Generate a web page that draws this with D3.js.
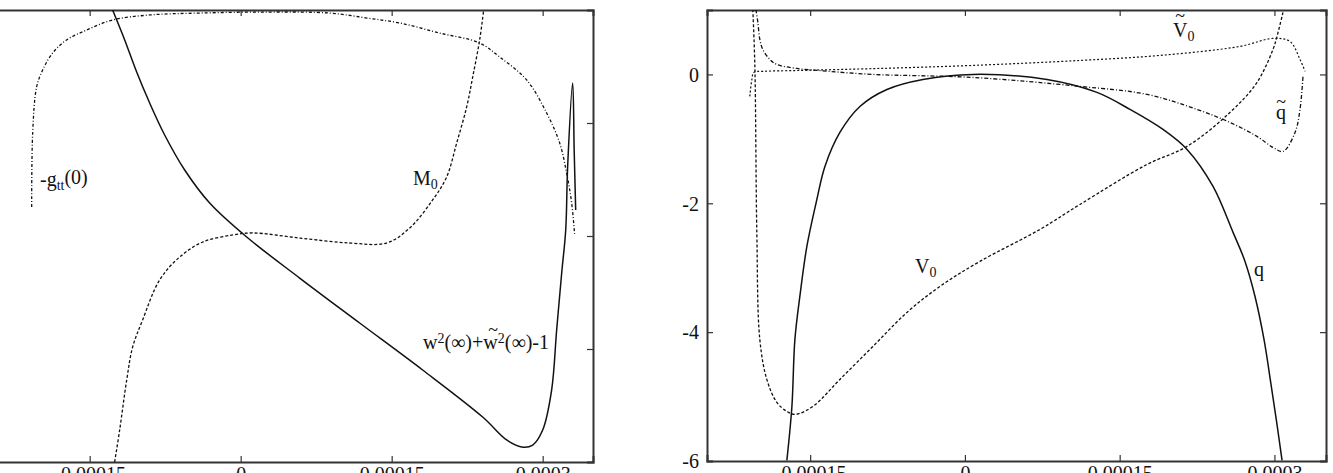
<!DOCTYPE html>
<html>
<head>
<meta charset="utf-8">
<script src="https://cdn.jsdelivr.net/npm/d3@7"></script>
<style>
body { margin: 0; background: #fff; }
svg { display: block; }
svg text { font-family: "Liberation Serif", "DejaVu Serif", serif !important; fill: #111; }
</style>
</head>
<body>
<div id="chart-area"></div>
<script>

// x ticks shared by both panels
var xDomain = [-0.00025, 0.00035];
var xTickVals = [-0.00015, 0, 0.00015, 0.0003];
var xTickLabels = ["-0.00015", "0", "0.00015", "0.0003"];

// left panel (its y labels are outside the picture)
var yDomainL = [0, 4];
var yTickValsL = [0, 1, 2, 3, 4];

// right panel
var yDomainR = [-6, 1];
var yTickValsR = [-6, -4, -2, 0];
var yTickLabelsR = ["-6", "-4", "-2", "0"];

// left panel curves
var gttX = [-2.076e-4, -2.066e-4, -2.027e-4, -1.967e-4, -1.868e-4, -1.729e-4, -1.530e-4, -1.272e-4, -0.904e-4, -0.407e-4, 0.258e-4, 0.884e-4, 1.252e-4, 1.580e-4, 1.977e-4, 2.374e-4, 2.573e-4, 2.841e-4, 3.040e-4, 3.169e-4, 3.238e-4, 3.288e-4, 3.318e-4];
var gttY = [2.257, 2.912, 3.319, 3.469, 3.619, 3.735, 3.823, 3.912, 3.956, 3.973, 3.982, 3.973, 3.929, 3.885, 3.796, 3.708, 3.584, 3.381, 3.088, 2.823, 2.558, 2.292, 2.009];

var m0X = [-1.252e-4, -1.202e-4, -1.132e-4, -1.073e-4, -0.974e-4, -0.805e-4, -0.606e-4, -0.377e-4, -0.079e-4, 0.119e-4, 0.586e-4, 1.083e-4, 1.450e-4, 1.679e-4, 1.907e-4, 2.046e-4, 2.146e-4, 2.245e-4, 2.305e-4, 2.374e-4, 2.414e-4];
var m0Y = [0, 0.283, 0.726, 1.018, 1.257, 1.611, 1.814, 1.947, 2.009, 2.027, 1.982, 1.938, 1.938, 2.071, 2.319, 2.522, 2.823, 3.142, 3.407, 3.735, 4.0];

var wX = [-1.272e-4, -1.152e-4, -1.033e-4, -0.904e-4, -0.755e-4, -0.556e-4, -0.308e-4, 0.060e-4, 0.586e-4, 1.182e-4, 1.808e-4, 2.404e-4, 2.642e-4, 2.791e-4, 2.901e-4, 3.000e-4, 3.089e-4, 3.139e-4, 3.189e-4, 3.229e-4, 3.248e-4, 3.298e-4, 3.313e-4, 3.328e-4];
var wY = [4.0, 3.735, 3.451, 3.177, 2.894, 2.584, 2.292, 1.991, 1.628, 1.230, 0.814, 0.398, 0.195, 0.133, 0.150, 0.283, 0.637, 1.168, 1.673, 2.053, 2.611, 3.354, 2.761, 2.230];

// right panel curves
var qX = [-1.726e-4, -1.677e-4, -1.648e-4, -1.600e-4, -1.532e-4, -1.435e-4, -1.357e-4, -1.212e-4, -1.018e-4, -0.756e-4, -0.407e-4, 0.078e-4, 0.795e-4, 1.280e-4, 1.600e-4, 1.920e-4, 2.153e-4, 2.405e-4, 2.599e-4, 2.715e-4, 2.812e-4, 2.899e-4, 2.967e-4, 3.025e-4, 3.074e-4];
var qY = [-5.991, -5.153, -4.113, -3.446, -2.670, -1.940, -1.428, -0.900, -0.497, -0.233, -0.078, 0, -0.078, -0.279, -0.543, -0.854, -1.164, -1.738, -2.452, -2.902, -3.446, -4.113, -4.811, -5.432, -5.991];

var v0X = [-2.056e-4, -2.036e-4, -2.017e-4, -1.988e-4, -1.920e-4, -1.823e-4, -1.726e-4, -1.648e-4, -1.474e-4, -1.212e-4, -0.892e-4, -0.562e-4, -0.242e-4, 0.145e-4, 0.727e-4, 1.115e-4, 1.765e-4, 2.153e-4, 2.569e-4, 2.831e-4, 2.986e-4, 3.025e-4, 3.083e-4];
var v0Y = [1.009, 0.124, -2.452, -4.113, -4.734, -5.091, -5.230, -5.277, -5.153, -4.734, -4.222, -3.694, -3.290, -2.902, -2.406, -2.018, -1.397, -1.117, -0.590, -0.124, 0.388, 0.590, 0.962];

var vtX = [-2.085e-4, -2.065e-4, -2.046e-4, -1.959e-4, -1.600e-4, -0.824e-4, 0.078e-4, 1.115e-4, 1.891e-4, 2.666e-4, 2.986e-4, 3.151e-4, 3.248e-4, 3.297e-4];
var vtY = [-0.341, -0.078, 0.031, 0.047, 0.062, 0.093, 0.140, 0.217, 0.295, 0.435, 0.559, 0.512, 0.233, 0.047];

var qtX = [-2.026e-4, -2.007e-4, -1.988e-4, -1.959e-4, -1.891e-4, -1.823e-4, -1.629e-4, -1.309e-4, -0.892e-4, 0.078e-4, 1.115e-4, 1.765e-4, 2.249e-4, 2.569e-4, 2.831e-4, 2.986e-4, 3.083e-4, 3.200e-4, 3.248e-4, 3.277e-4];
var qtY = [1.009, 0.807, 0.543, 0.388, 0.233, 0.155, 0.093, 0.047, 0, -0.047, -0.186, -0.310, -0.543, -0.745, -0.962, -1.133, -1.195, -0.900, -0.543, -0.031];

var width = 1333, height = 473;

var svg = d3.select("#chart-area").append("svg")
	.attr("width", width)
	.attr("height", height);

function makePanel(id, left, right, top, bottom, yDomain, yTicks, yLabels) {
	var x = d3.scaleLinear().domain(xDomain).range([left, right]);
	var y = d3.scaleLinear().domain(yDomain).range([bottom, top]);

	svg.append("clipPath").attr("id", id)
		.append("rect")
		.attr("x", left).attr("y", top)
		.attr("width", right - left).attr("height", bottom - top);

	// inward ticks on all four sides, gnuplot style
	var bottomAxis = svg.append("g")
		.attr("transform", "translate(0," + bottom + ")")
		.call(d3.axisBottom(x).tickValues(xTickVals).tickSize(-6)
			.tickFormat(function(d, i) { return xTickLabels[i]; }));
	bottomAxis.selectAll("text")
		.attr("y", 19).attr("dy", null)
		.style("font-size", "20px");

	svg.append("g")
		.attr("transform", "translate(0," + top + ")")
		.call(d3.axisTop(x).tickValues(xTickVals).tickSize(-6).tickFormat(""));

	var leftAxis = svg.append("g")
		.attr("transform", "translate(" + left + ",0)")
		.call(d3.axisLeft(y).tickValues(yTicks).tickSize(-6)
			.tickFormat(function(d, i) { return yLabels ? yLabels[i] : ""; }));
	leftAxis.selectAll("text")
		.attr("x", -8).attr("dy", "0.34em")
		.style("font-size", "20px");

	svg.append("g")
		.attr("transform", "translate(" + right + ",0)")
		.call(d3.axisRight(y).tickValues(yTicks).tickSize(-6).tickFormat(""));

	svg.selectAll(".domain").attr("stroke", "#333").attr("stroke-width", 2);
	svg.selectAll(".tick line").attr("stroke", "#333").attr("stroke-width", 1.2);

	return {x: x, y: y, clip: "url(#" + id + ")"};
}

function drawCurve(p, xs, ys, dash, w) {
	var line = d3.line()
		.x(function(d) { return p.x(d[0]); })
		.y(function(d) { return p.y(d[1]); })
		.curve(d3.curveCatmullRom.alpha(0.5));

	svg.append("path")
		.datum(d3.zip(xs, ys))
		.attr("clip-path", p.clip)
		.attr("fill", "none")
		.attr("stroke", "#111")
		.attr("stroke-width", w)
		.attr("stroke-dasharray", dash)
		.attr("d", line);
}

var pL = makePanel("clipL", -11, 593, 10, 462, yDomainL, yTickValsL, null);
var pR = makePanel("clipR", 707, 1326, 10, 461, yDomainR, yTickValsR, yTickLabelsR);

drawCurve(pL, gttX, gttY, "3,2,1,2", 1.3);
drawCurve(pL, m0X, m0Y, "3,2", 1.3);
drawCurve(pL, wX, wY, null, 1.5);

drawCurve(pR, vtX, vtY, "2,2", 1.2);
drawCurve(pR, qtX, qtY, "4,2,1,2", 1.3);
drawCurve(pR, v0X, v0Y, "3,2", 1.3);
drawCurve(pR, qX, qY, null, 1.5);

// curve labels
function label(xp, yp, parts) {
	var t = svg.append("text").attr("x", xp).attr("y", yp).style("font-size", "20px");
	parts.forEach(function(s) {
		var sp = t.append("tspan").text(s.t);
		if (s.sub) sp.attr("dy", "0.3em").style("font-size", "14px");
		if (s.sup) sp.attr("dy", "-0.45em").style("font-size", "14px");
		if (s.back) sp.attr("dy", s.back);
	});
	return t;
}
function tilde(xp, yp) {
	svg.append("text").attr("x", xp).attr("y", yp)
		.attr("text-anchor", "middle").style("font-size", "18px").text("~");
}

label(40, 186, [{t: "-g"}, {t: "tt", sub: true}, {t: "(0)", back: "-0.3em"}]);
label(413, 185, [{t: "M"}, {t: "0", sub: true}]);
label(423, 349, [{t: "w"}, {t: "2", sup: true}, {t: "(\u221e)+w", back: "0.315em"},
	{t: "2", sup: true}, {t: "(\u221e)-1", back: "0.315em"}]);
tilde(493, 336);

label(1173, 37, [{t: "V"}, {t: "0", sub: true}]);
tilde(1180, 22);
label(1276, 119, [{t: "q"}]);
tilde(1281, 108);
label(915, 273, [{t: "V"}, {t: "0", sub: true}]);
label(1254, 276, [{t: "q"}]);

</script>
</body>
</html>
